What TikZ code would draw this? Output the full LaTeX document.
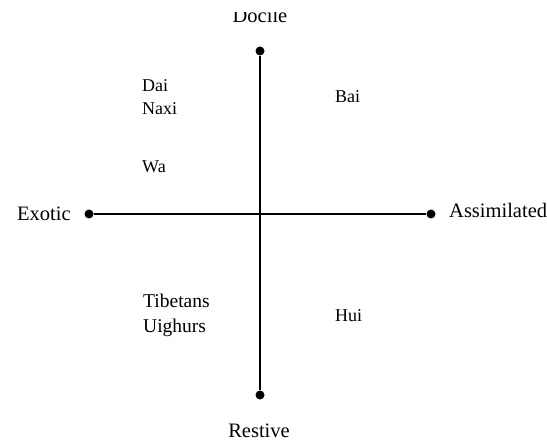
\documentclass[tikz,border=0pt]{standalone}
\usepackage{fontspec}
\setmainfont{Liberation Serif}
\begin{document}
\begin{tikzpicture}[x=1pt,y=-1pt,
  axis/.style={line width=2pt,black},
  enddot/.style={circle,fill=black,inner sep=0pt,minimum size=9pt},
  axislabel/.style={inner sep=0pt,font=\fontsize{20.5}{24}\selectfont},
  grouplabel/.style={inner sep=0pt,anchor=base west,font=\fontsize{18}{23}\selectfont},
  grouplabelb/.style={inner sep=0pt,anchor=base west,font=\fontsize{19.5}{25}\selectfont}]
\useasboundingbox (0,0) rectangle (547,441);
\node[enddot] (top) at (260,51) {};
\node[enddot] (bottom) at (260,395) {};
\node[enddot] (left) at (89,214) {};
\node[enddot] (right) at (431,214) {};
\draw[axis] (top) -- (bottom);
\draw[axis] (left) -- (right);
\begin{scope}
\clip (0,13) rectangle (547,441);
\node[axislabel,anchor=base] (docile) at (260,23) {Docile};
\end{scope}
\node[axislabel,anchor=base] (restive) at (259,437) {Restive};
\node[axislabel,anchor=base west] (exotic) at (17,221) {Exotic};
\node[axislabel,anchor=base west] (assim) at (449,218) {Assimilated};
\node[grouplabel] (dai) at (142,92) {Dai};
\node[grouplabel] (naxi) at (142,115) {Naxi};
\node[grouplabel] (wa) at (142,173) {Wa};
\node[grouplabel] (bai) at (335,103) {Bai};
\node[grouplabel] (hui) at (335,322) {Hui};
\node[grouplabelb] (tib) at (143,308) {Tibetans};
\node[grouplabelb] (uig) at (143,333) {Uighurs};
\end{tikzpicture}
\end{document}
